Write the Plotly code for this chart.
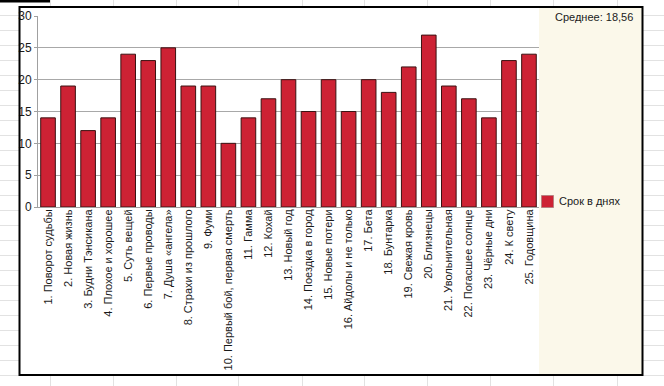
import plotly.graph_objects as go

categories = [
    "1. Поворот судьбы", "2. Новая жизнь", "3. Будни Тэнсикана", "4. Плохое и хорошее",
    "5. Суть вещей", "6. Первые проводы", "7. Душа «ангела»", "8. Страхи из прошлого",
    "9. Фуми", "10. Первый бой, первая смерть", "11. Гамма", "12. Кохай",
    "13. Новый год", "14. Поездка в город", "15. Новые потери", "16. Айдолы и не только",
    "17. Бета", "18. Бунтарка", "19. Свежая кровь", "20. Близнецы",
    "21. Увольнительная", "22. Погасшее солнце", "23. Чёрные дни", "24. К свету",
    "25. Годовщина",
]
values = [14, 19, 12, 14, 24, 23, 25, 19, 19, 10, 14, 17, 20, 15, 20, 15, 20, 18, 22, 27, 19, 17, 14, 23, 24]
series_name = "Срок в днях"
y_ticks = [0, 5, 10, 15, 20, 25, 30]

mean_val = sum(values) / len(values)
mean_text = "Среднее: " + f"{mean_val:.2f}".replace(".", ",")

W, H = 664, 386
L, R, T, B = 38, 539, 16, 207
PW, PH = R - L, B - T


def xp(px):
    return (px - L) / PW


def yp(py):
    return (B - py) / PH


FONT = "Liberation Sans, Arial, sans-serif"
BAR_FILL = "#CD2234"
BAR_LINE = "#3A1212"

fig = go.Figure()
fig.add_trace(go.Bar(
    x=categories, y=values, name=series_name,
    marker=dict(color=BAR_FILL, line=dict(color=BAR_LINE, width=1)),
    showlegend=False,
))

shapes = []
# spreadsheet grid behind the chart
for gx in [50, 113, 176, 238, 302, 364, 427, 490, 553, 617]:
    shapes.append(dict(type="line", xref="paper", yref="paper",
                       x0=xp(gx + 0.5), x1=xp(gx + 0.5), y0=yp(0), y1=yp(H),
                       line=dict(color="#E2E2E2", width=1), layer="below"))
for gy in range(15, H, 15):
    shapes.append(dict(type="line", xref="paper", yref="paper",
                       x0=xp(0), x1=xp(W), y0=yp(gy + 0.5), y1=yp(gy + 0.5),
                       line=dict(color="#E2E2E2", width=1), layer="below"))
# black selection strip top-left
shapes.append(dict(type="rect", xref="paper", yref="paper",
                   x0=xp(0), x1=xp(50), y0=yp(0), y1=yp(2.5),
                   fillcolor="#000000", line=dict(width=0), layer="below"))
# chart area white
shapes.append(dict(type="rect", xref="paper", yref="paper",
                   x0=xp(19), x1=xp(643), y0=yp(7), y1=yp(375),
                   fillcolor="#FFFFFF", line=dict(width=0), layer="below"))
# beige right panel
shapes.append(dict(type="rect", xref="paper", yref="paper",
                   x0=xp(539), x1=xp(643), y0=yp(7), y1=yp(375),
                   fillcolor="#FBF8EA", line=dict(width=0), layer="below"))
# outer black border
shapes.append(dict(type="rect", xref="paper", yref="paper",
                   x0=xp(19.5), x1=xp(642.5), y0=yp(7), y1=yp(375),
                   fillcolor="rgba(0,0,0,0)", line=dict(color="#000000", width=2), layer="above"))
# legend swatch
shapes.append(dict(type="rect", xref="paper", yref="paper",
                   x0=xp(541.5), x1=xp(553.5), y0=yp(195.5), y1=yp(207.5),
                   fillcolor=BAR_FILL, line=dict(color="#B88080", width=1), layer="above"))

annotations = [
    dict(text=mean_text, xref="paper", yref="paper", x=xp(553), y=yp(17),
         xanchor="left", yanchor="middle", showarrow=False,
         font=dict(family=FONT, size=11, color="#1A1A1A")),
    dict(text=series_name, xref="paper", yref="paper", x=xp(557), y=yp(201),
         xanchor="left", yanchor="middle", showarrow=False,
         font=dict(family=FONT, size=11, color="#1A1A1A")),
]

fig.update_layout(
    width=W, height=H,
    margin=dict(l=L, r=W - R, t=T, b=H - B, pad=0),
    paper_bgcolor="#FFFFFF",
    plot_bgcolor="rgba(0,0,0,0)",
    bargap=0.27,
    shapes=shapes,
    annotations=annotations,
    font=dict(family=FONT, size=11, color="#1A1A1A"),
    xaxis=dict(
        type="category", range=[-0.5, len(categories) - 0.5],
        tickangle=-90, showgrid=False, ticks="", ticklen=0,
        ticklabelstandoff=-3,
        showline=True, linecolor="#A0A0A0", linewidth=1,
        tickfont=dict(family=FONT, size=11, color="#1A1A1A"),
        automargin=False, fixedrange=True,
    ),
    yaxis=dict(
        range=[0, 30], tickvals=y_ticks, ticktext=[str(v) for v in y_ticks],
        showgrid=True, gridcolor="#A8A8A8", gridwidth=1,
        showline=True, linecolor="#A0A0A0", linewidth=1,
        ticks="outside", ticklen=3, tickcolor="#A0A0A0",
        zeroline=False,
        tickfont=dict(family=FONT, size=12, color="#1A1A1A"),
        automargin=False, fixedrange=True,
    ),
)

fig.write_html(
    "out.html",
    config={"displayModeBar": False},
    post_script="document.body.style.margin='0';document.body.style.overflow='hidden';",
)
